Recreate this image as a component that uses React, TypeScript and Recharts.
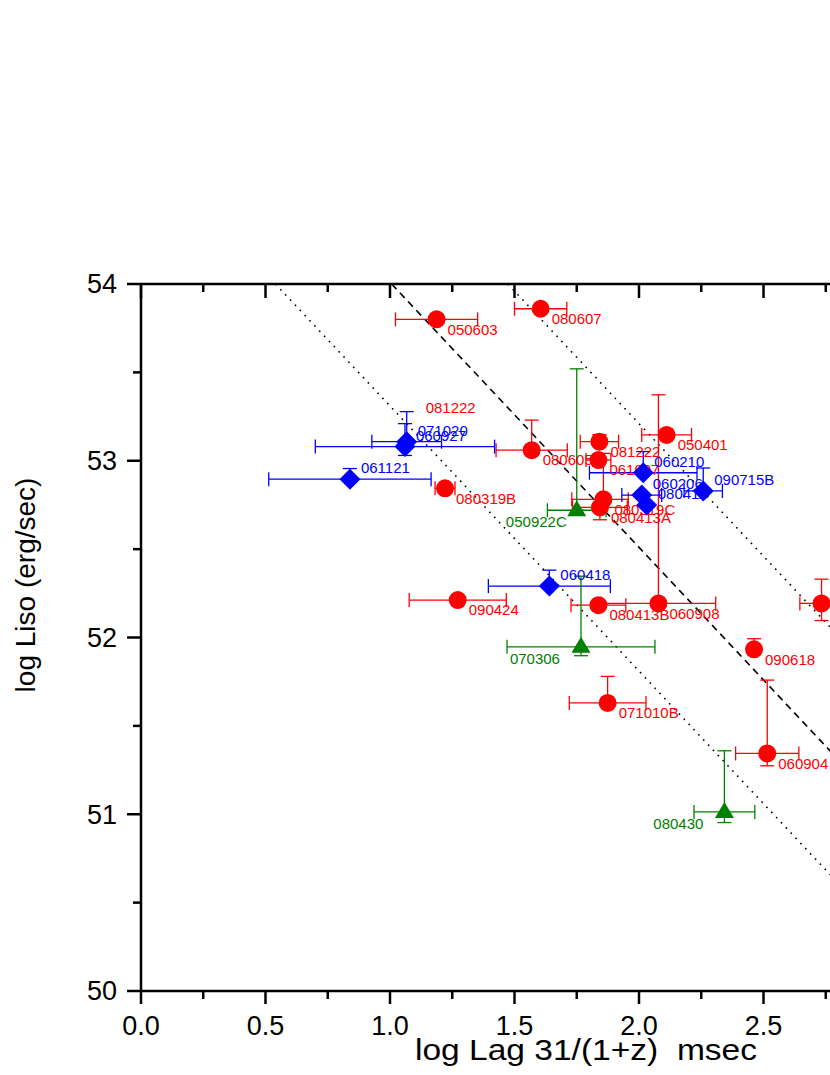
import React from "react";
import { ScatterChart, Scatter, XAxis, YAxis, ErrorBar, ReferenceLine, ReferenceDot, Label } from "recharts";

// red circles
const redNames = ["050603", "080607", "080605", "080319B", "081222", "061007", "080319C", "080413A", "050401", "060908", "080413B", "090424", "071010B", "090618", "060904", ""];
const redLag = [1.187, 1.605, 1.569, 1.221, 1.841, 1.837, 1.857, 1.843, 2.111, 2.078, 1.837, 1.272, 1.874, 2.462, 2.515, 2.733];
const redLiso = [53.8, 53.86, 53.06, 52.844, 53.108, 53.004, 52.782, 52.736, 53.146, 52.193, 52.183, 52.212, 51.63, 51.933, 51.344, 52.193];
const redLagErr = [[0.165, 0.165], [0.105, 0.105], [0.143, 0.143], [0.04, 0.04], [0.077, 0.077], [0.05, 0.05], [0.127, 0.1], [0.11, 0.11], [0.1, 0.1], [0.23, 0.23], [0.11, 0.11], [0.195, 0.195], [0.154, 0.154], [0, 0], [0.127, 0.127], [0.087, 0.087]];
const redLisoErr = [[0, 0], [0, 0], [0, 0.17], [0, 0], [0, 0.04], [0, 0], [0, 0.26], [0.07, 0], [0, 0], [0, 1.18], [0, 0], [0, 0], [0, 0.15], [0, 0.06], [0.07, 0.415], [0.097, 0.137]];

// blue diamonds
const blueNames = ["071020", "060927", "061121", "060210", "060206", "080411", "090715B", "060418"];
const blueLag = [1.067, 1.06, 0.839, 2.017, 2.011, 2.031, 2.258, 1.64];
const blueLiso = [53.108, 53.08, 52.896, 52.932, 52.806, 52.749, 52.829, 52.291];
const blueLagErr = [[0.14, 0.14], [0.36, 0.36], [0.326, 0.326], [0.216, 0.216], [0.08, 0.08], [0, 0], [0.077, 0.077], [0.245, 0.245]];
const blueLisoErr = [[0, 0.17], [0.05, 0.13], [0, 0.06], [0, 0.12], [0, 0], [0, 0], [0, 0.13], [0, 0.09]];

// green triangles
const greenNames = ["050922C", "070306", "080430"];
const greenLag = [1.75, 1.767, 2.343];
const greenLiso = [52.72, 51.947, 51.013];
const greenLagErr = [[0.118, 0.118], [0.297, 0.297], [0.122, 0.122]];
const greenLisoErr = [[0, 0.8], [0.05, 0.4], [0.06, 0.346]];

// stray label printed without a point
const strayName = "081222";
const strayLag = 1.099;
const strayLiso = 53.359;

const xMajorTicks = [0, 0.5, 1, 1.5, 2, 2.5, 3];
const xMinorTicks = [0.25, 0.75, 1.25, 1.75, 2.25, 2.75];
const yMajorTicks = [50, 51, 52, 53, 54];
const yMinorTicks = [50.5, 51.5, 52.5, 53.5];

// fit: log Liso = b - 1.5 log Lag, with +-0.7 band
const fitSlope = -1.5;
const fitIntercept = 55.51;
const fitBand = 0.7;

const X_DOMAIN = [0, 3];
const Y_DOMAIN = [50, 54];
const FONT = "'Liberation Sans', Arial, sans-serif";
const RED = "#ff0000";
const BLUE = "#0000ff";
const GREEN = "#008000";

const greenLabelShift: Record<string, number> = { "050922C": -10 };

const toRows = (names, lag, liso, lagErr, lisoErr) =>
  names.map((name, i) => ({ name, lag: lag[i], liso: liso[i], lagErr: lagErr[i], lisoErr: lisoErr[i] }));

const redRows = toRows(redNames, redLag, redLiso, redLagErr, redLisoErr);
const blueRows = toRows(blueNames, blueLag, blueLiso, blueLagErr, blueLisoErr);
const greenRows = toRows(greenNames, greenLag, greenLiso, greenLagErr, greenLisoErr);

const fitSegment = (b: number) => {
  const x0 = Math.max(X_DOMAIN[0], (b - Y_DOMAIN[1]) / -fitSlope);
  const x1 = Math.min(X_DOMAIN[1], (b - Y_DOMAIN[0]) / -fitSlope);
  return [
    { x: x0, y: b + fitSlope * x0 },
    { x: x1, y: b + fitSlope * x1 },
  ];
};

const RedDot = (p: any) => (
  <g>
    <circle cx={p.cx} cy={p.cy} r={9} fill={RED} />
    <text x={p.cx + 11} y={p.cy + 10} dy="0.35em" fontSize={15} fontFamily={FONT} fill={RED}>
      {p.payload.name}
    </text>
  </g>
);

const BlueDiamond = (p: any) => (
  <g>
    <polygon
      points={`${p.cx},${p.cy - 10.5} ${p.cx + 10.5},${p.cy} ${p.cx},${p.cy + 10.5} ${p.cx - 10.5},${p.cy}`}
      fill={BLUE}
    />
    <text x={p.cx + 11} y={p.cy - 11} dy="0.35em" fontSize={15} fontFamily={FONT} fill={BLUE}>
      {p.payload.name}
    </text>
  </g>
);

const GreenTriangle = (p: any) => (
  <g>
    <polygon points={`${p.cx},${p.cy - 10} ${p.cx + 9.5},${p.cy + 6} ${p.cx - 9.5},${p.cy + 6}`} fill={GREEN} />
    <text
      x={p.cx + (greenLabelShift[p.payload.name] ?? -21)}
      y={p.cy + 12}
      dy="0.35em"
      textAnchor="end"
      fontSize={15}
      fontFamily={FONT}
      fill={GREEN}
    >
      {p.payload.name}
    </text>
  </g>
);

const BottomTick = (p: any) => {
  const major = xMajorTicks.includes(p.payload.value);
  return (
    <g>
      <line x1={p.x} x2={p.x} y1={p.y} y2={p.y + (major ? 13 : 8)} stroke="#000" strokeWidth={2.5} />
      {major && (
        <text x={p.x} y={p.y + 44} textAnchor="middle" fontSize={27} fontFamily={FONT} fill="#000">
          {p.payload.value.toFixed(1)}
        </text>
      )}
    </g>
  );
};

const TopTick = (p: any) => {
  const major = xMajorTicks.includes(p.payload.value);
  return <line x1={p.x} x2={p.x} y1={p.y} y2={p.y + (major ? 14 : 8)} stroke="#000" strokeWidth={2.5} />;
};

const LeftTick = (p: any) => {
  const major = yMajorTicks.includes(p.payload.value);
  return (
    <g>
      <line x1={p.x - (major ? 14 : 8)} x2={p.x} y1={p.y} y2={p.y} stroke="#000" strokeWidth={2.5} />
      {major && (
        <text x={p.x - 24} y={p.y} dy="0.35em" textAnchor="end" fontSize={27} fontFamily={FONT} fill="#000">
          {p.payload.value}
        </text>
      )}
    </g>
  );
};

const allX = [...xMajorTicks, ...xMinorTicks].sort((a, b) => a - b);
const allY = [...yMajorTicks, ...yMinorTicks].sort((a, b) => a - b);

export default function App() {
  return (
    <div style={{ position: "absolute", left: 0, top: 0, width: 830, height: 1075, overflow: "hidden", background: "#fff" }}>
      <ScatterChart width={900} height={1075} margin={{ top: 283, right: 12, bottom: 0, left: 0 }}>
        <XAxis
          xAxisId="x"
          dataKey="lag"
          type="number"
          domain={X_DOMAIN}
          ticks={allX}
          interval={0}
          tickSize={0}
          tickMargin={0}
          tickLine={false}
          tick={(p) => <BottomTick {...p} />}
          axisLine={{ stroke: "#000", strokeWidth: 2.5 }}
          height={84}
          allowDataOverflow
        >
          <Label
            content={({ viewBox }: any) => (
              <text
                x={viewBox.x + 274}
                y={viewBox.y + 69}
                fontSize={29}
                fontFamily={FONT}
                fill="#000"
                textLength={342}
                lengthAdjust="spacingAndGlyphs"
                style={{ whiteSpace: "pre" }}
              >
                {"log Lag 31/(1+z)  msec"}
              </text>
            )}
          />
        </XAxis>
        <XAxis
          xAxisId="top"
          orientation="top"
          dataKey="lag"
          type="number"
          domain={X_DOMAIN}
          ticks={allX}
          interval={0}
          tickSize={0}
          tickMargin={0}
          tickLine={false}
          tick={(p) => <TopTick {...p} />}
          axisLine={{ stroke: "#000", strokeWidth: 2.5 }}
          height={1}
          allowDataOverflow
        />
        <YAxis
          yAxisId="y"
          dataKey="liso"
          type="number"
          domain={Y_DOMAIN}
          ticks={allY}
          interval={0}
          tickSize={0}
          tickMargin={0}
          tickLine={false}
          tick={(p) => <LeftTick {...p} />}
          axisLine={{ stroke: "#000", strokeWidth: 2.5 }}
          width={141}
          allowDataOverflow
        >
          <Label
            content={({ viewBox }: any) => (
              <text
                x={35}
                y={viewBox.y + 301}
                transform={`rotate(-90 35 ${viewBox.y + 301})`}
                textAnchor="middle"
                fontSize={28}
                fontFamily={FONT}
                fill="#000"
              >
                log Liso (erg/sec)
              </text>
            )}
          />
        </YAxis>

        <ReferenceLine xAxisId="x" yAxisId="y" segment={fitSegment(fitIntercept - fitBand)} stroke="#000" strokeWidth={1.6} strokeDasharray="1.6 5.5" ifOverflow="hidden" />
        <ReferenceLine xAxisId="x" yAxisId="y" segment={fitSegment(fitIntercept)} stroke="#000" strokeWidth={1.6} strokeDasharray="7 5" ifOverflow="hidden" />
        <ReferenceLine xAxisId="x" yAxisId="y" segment={fitSegment(fitIntercept + fitBand)} stroke="#000" strokeWidth={1.6} strokeDasharray="1.6 5.5" ifOverflow="hidden" />

        <Scatter xAxisId="x" yAxisId="y" data={redRows} dataKey="liso" shape={RedDot} isAnimationActive={false}>
          <ErrorBar dataKey="lagErr" direction="x" width={7} stroke={RED} strokeWidth={1.3} />
          <ErrorBar dataKey="lisoErr" direction="y" width={7} stroke={RED} strokeWidth={1.3} />
        </Scatter>
        <Scatter xAxisId="x" yAxisId="y" data={blueRows} dataKey="liso" shape={BlueDiamond} isAnimationActive={false}>
          <ErrorBar dataKey="lagErr" direction="x" width={7} stroke={BLUE} strokeWidth={1.3} />
          <ErrorBar dataKey="lisoErr" direction="y" width={7} stroke={BLUE} strokeWidth={1.3} />
        </Scatter>
        <Scatter xAxisId="x" yAxisId="y" data={greenRows} dataKey="liso" shape={GreenTriangle} isAnimationActive={false}>
          <ErrorBar dataKey="lagErr" direction="x" width={7} stroke={GREEN} strokeWidth={1.3} />
          <ErrorBar dataKey="lisoErr" direction="y" width={7} stroke={GREEN} strokeWidth={1.3} />
        </Scatter>

        <ReferenceDot
          xAxisId="x"
          yAxisId="y"
          x={strayLag}
          y={strayLiso}
          r={0}
          fill="none"
          stroke="none"
          label={({ viewBox }: any) => (
            <text x={viewBox.x + 11} y={viewBox.y + 10} dy="0.35em" fontSize={15} fontFamily={FONT} fill={RED}>
              {strayName}
            </text>
          )}
        />
      </ScatterChart>
    </div>
  );
}
